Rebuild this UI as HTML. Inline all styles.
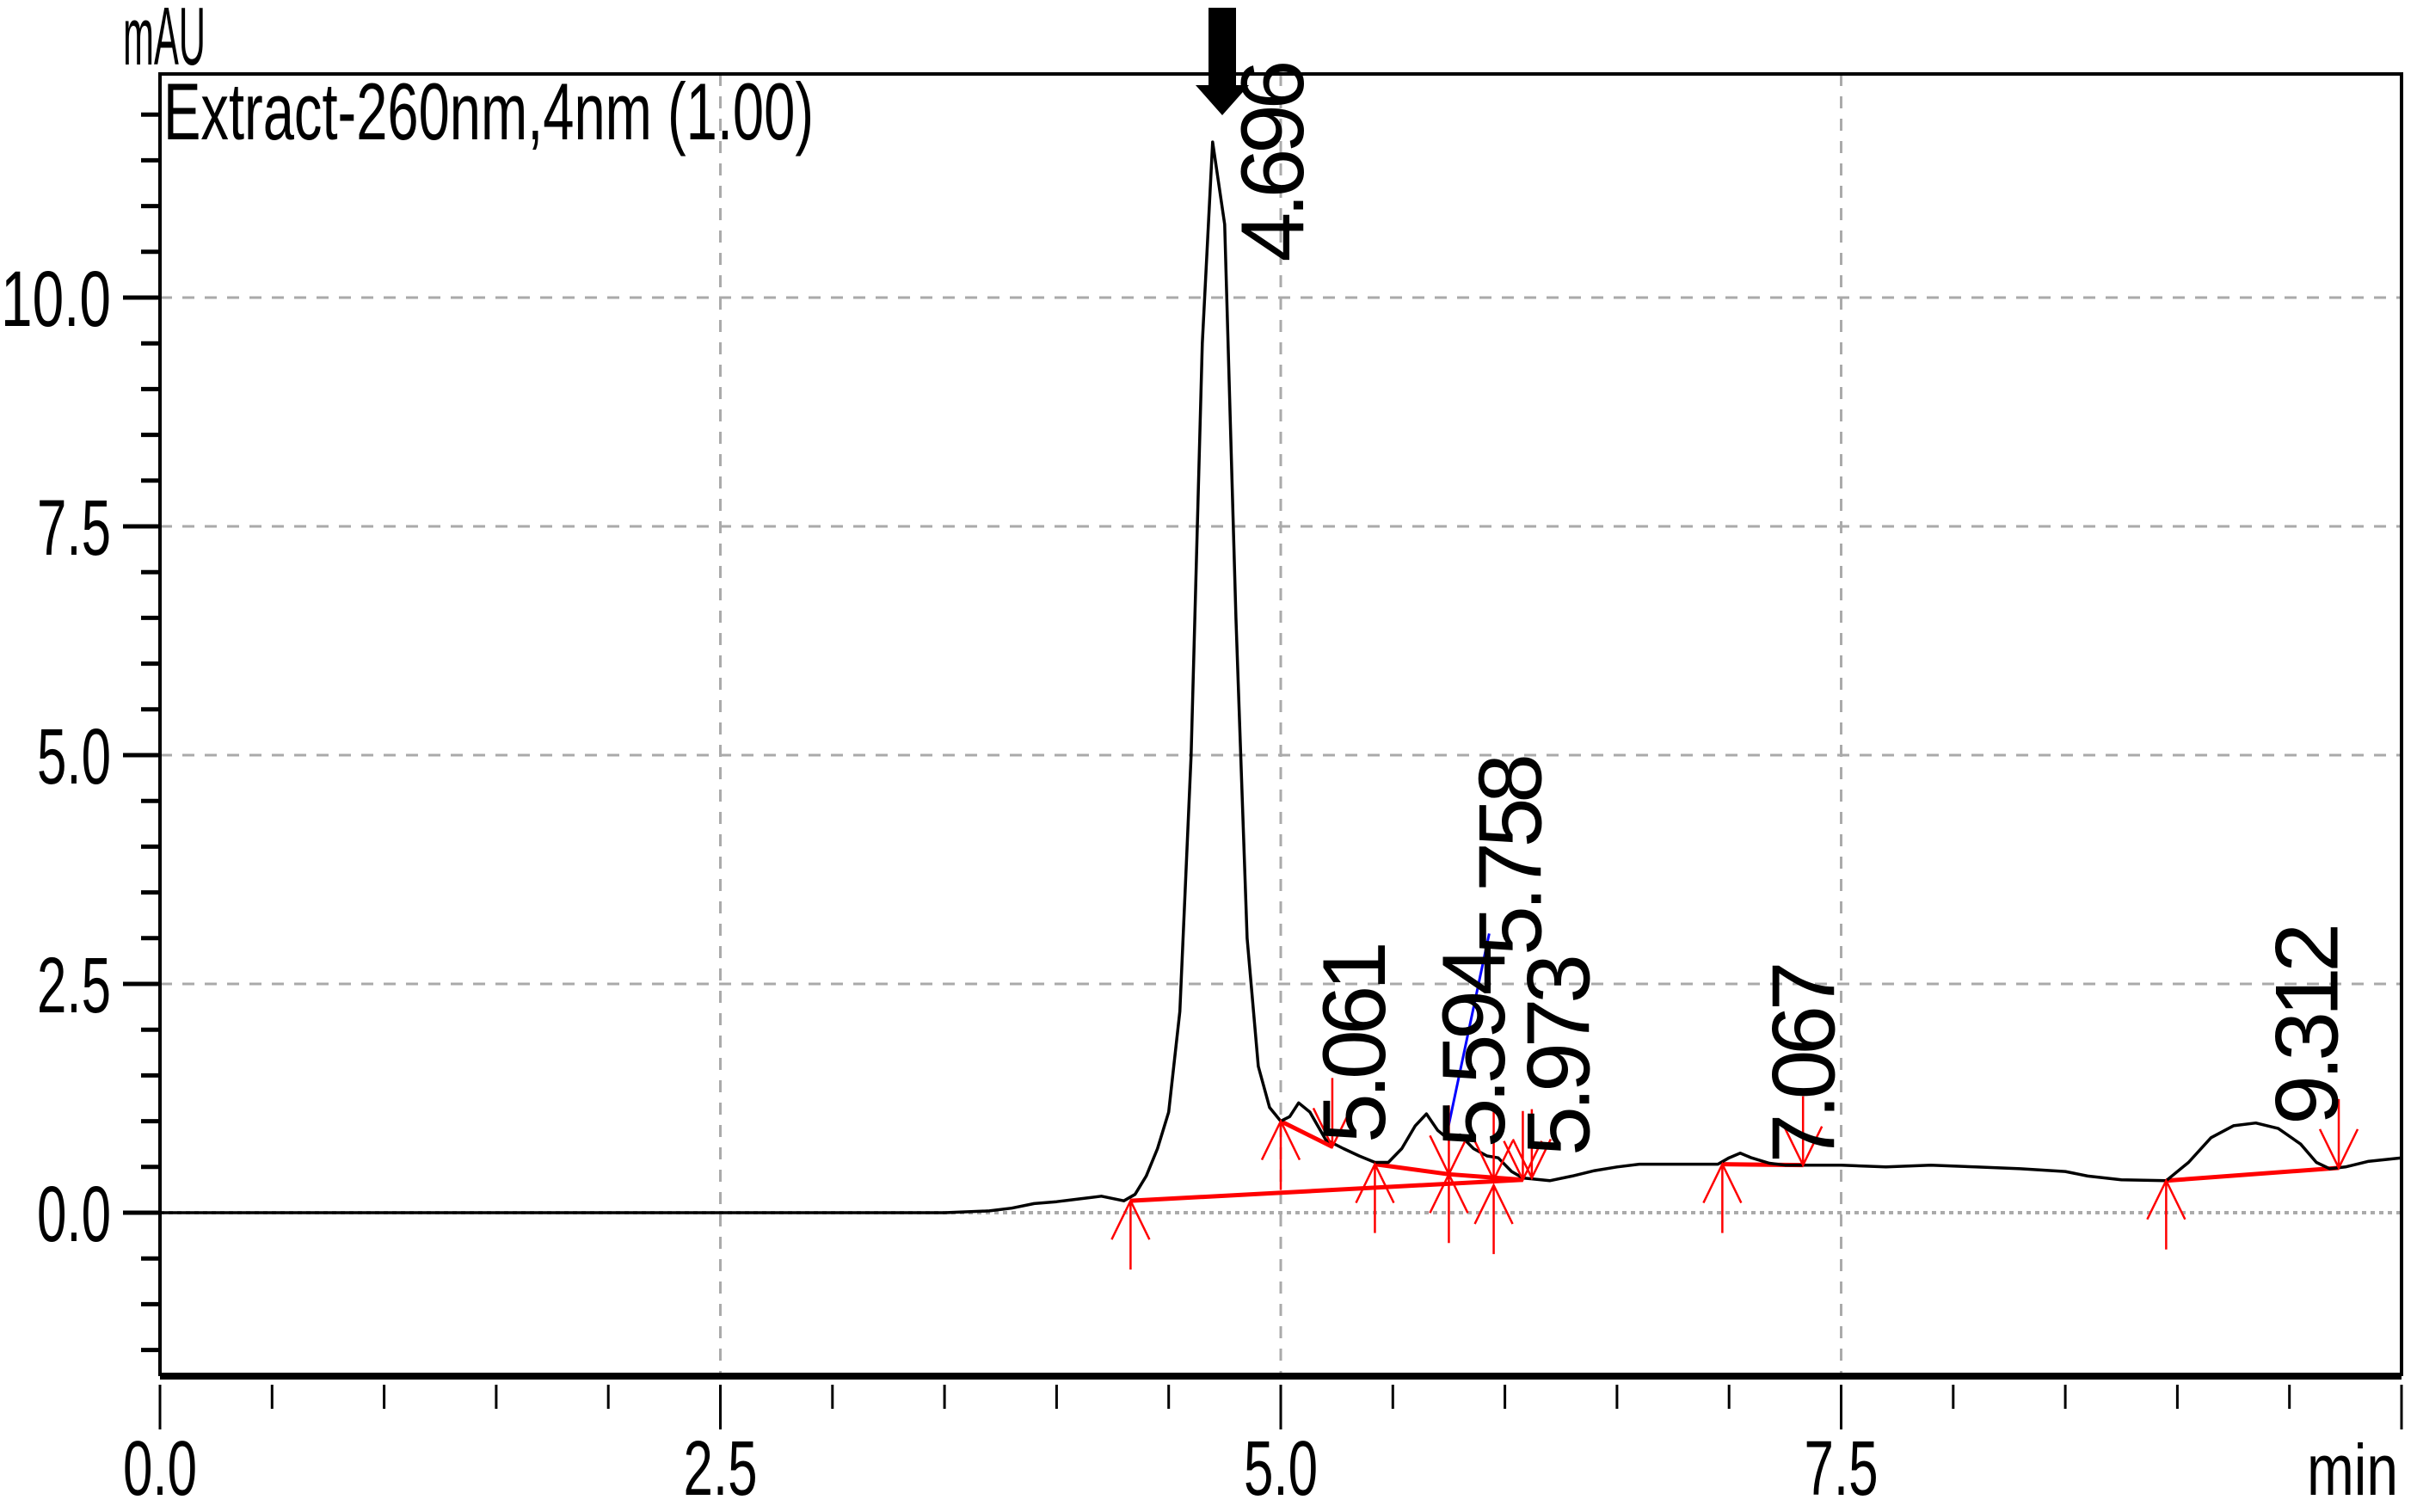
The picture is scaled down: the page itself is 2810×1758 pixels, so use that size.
<!DOCTYPE html>
<html><head><meta charset="utf-8"><style>
html,body{margin:0;padding:0;background:#fff}
svg{display:block}
text{font-family:"Liberation Sans",sans-serif;fill:#000}
</style></head><body>
<svg id="chart" width="2810" height="1758" viewBox="0 0 2810 1758" xmlns="http://www.w3.org/2000/svg">
<g id="grid"></g>
<g id="axes"></g>
<g id="series"></g>
<g id="labels"></g>
</svg>
<script>
const xTicksMajor=[0,2.5,5,7.5,10];
const xTickLabels=["0.0","2.5","5.0","7.5"];
const yTicksMajor=[0,2.5,5,7.5,10];
const yTickLabels=["0.0","2.5","5.0","7.5","10.0"];
const times=[0,0.5,1,1.5,2,2.5,3,3.5,3.7,3.8,3.9,4.0,4.1,4.2,4.3,4.35,4.4,4.45,4.5,4.55,4.6,4.65,4.696,4.75,4.8,4.85,4.9,4.95,5.0,5.04,5.08,5.13,5.2,5.28,5.35,5.42,5.48,5.54,5.6,5.65,5.7,5.75,5.8,5.86,5.92,5.97,6.03,6.08,6.2,6.3,6.4,6.5,6.6,6.8,6.95,7.0,7.05,7.1,7.18,7.25,7.35,7.5,7.7,7.9,8.1,8.3,8.5,8.6,8.75,8.95,9.05,9.15,9.25,9.35,9.45,9.55,9.62,9.68,9.75,9.85,10];
const values=[0,0,0,0,0,0,0,0,0.02,0.05,0.1,0.12,0.15,0.18,0.13,0.2,0.4,0.7,1.1,2.2,5.0,9.5,11.7,10.8,6.5,3.0,1.6,1.15,1.0,1.05,1.2,1.1,0.8,0.7,0.62,0.55,0.55,0.7,0.95,1.08,0.9,0.8,0.85,0.7,0.62,0.6,0.45,0.38,0.35,0.4,0.46,0.5,0.53,0.53,0.53,0.6,0.65,0.6,0.54,0.52,0.52,0.52,0.5,0.52,0.5,0.48,0.45,0.4,0.36,0.35,0.55,0.82,0.95,0.98,0.92,0.75,0.55,0.48,0.5,0.56,0.6];
const baseStartT=[4.33,5.0,5.42,5.75,6.97,8.95];
const baseStartV=[0.13,1.0,0.53,0.42,0.53,0.35];
const baseEndT=[6.08,5.23,5.75,6.08,7.33,9.72];
const baseEndV=[0.36,0.72,0.42,0.36,0.52,0.49];
const startMarkT=[4.33,5.0,5.42,5.75,5.95,6.97,8.95];
const startMarkV=[0.13,1.0,0.53,0.42,0.3,0.53,0.35];
const endMarkT=[5.23,5.75,5.95,6.08,6.12,7.33,9.72];
const endMarkV=[0.72,0.42,0.36,0.36,0.38,0.52,0.49];
const peakNames=["4.696","5.061","5.594","5.758","5.973","7.067","9.312"];
const peakLabelT=[4.696,5.061,5.594,5.758,5.973,7.067,9.312];
const peakLabelV=[10.39,0.76,0.71,2.81,0.62,0.54,0.96];

const L=186,R=2792,T=86,B=1600;
const X=t=>L+(t-0)/(10-0)*(R-L);
const Y=v=>1410-v/10*(1410-346);
const NS="http://www.w3.org/2000/svg";
function mk(tag,parent,attrs){const e=document.createElementNS(NS,tag);for(const k in attrs)e.setAttribute(k,attrs[k]);parent.appendChild(e);return e;}
const grid=document.getElementById('grid'),axes=document.getElementById('axes'),series=document.getElementById('series'),labels=document.getElementById('labels');

[2.5,5,7.5].forEach(t=>{const l=mk('line',grid,{x1:X(t),x2:X(t),y1:T,y2:B,stroke:'#aaa','stroke-width':3,'stroke-dasharray':'14 12'});

});
[2.5,5,7.5,10].forEach(v=>{const l=mk('line',grid,{x1:L,x2:R,y1:Y(v),y2:Y(v),stroke:'#aaa','stroke-width':3,'stroke-dasharray':'14 12'});

});
{const l=mk('line',grid,{x1:L,x2:R,y1:Y(0),y2:Y(0),stroke:'#aaa','stroke-width':4,'stroke-dasharray':'5 5'});

}

{const f=mk('path',axes,{d:`M${L},${B} L${L},${T} L${R},${T} L${R},${B}`,fill:'none',stroke:'#000','stroke-width':4});


const b=mk('line',axes,{x1:L,x2:R,y1:B,y2:B,stroke:'#000','stroke-width':8});

}

for(let v=-1.5;v<=12.01;v+=0.5){const major=Math.abs(v/2.5-Math.round(v/2.5))<1e-6;
const t=mk('line',axes,{x1:major?143:164,x2:L,y1:Y(v),y2:Y(v),stroke:'#000','stroke-width':5});

}
yTicksMajor.forEach((v,i)=>{const s=yTickLabels[i];const w=s.length>3?128:86;
const t=mk('text',axes,{x:129-w,y:Y(v)+33,'font-size':92,textLength:w,lengthAdjust:'spacingAndGlyphs'});t.textContent=s;

});
for(let t=0;t<=10.001;t+=0.5){const major=Math.abs(t/2.5-Math.round(t/2.5))<1e-6;
const l=mk('line',axes,{x1:X(t),x2:X(t),y1:1610,y2:major?1662:1638,stroke:'#000','stroke-width':3});

}
xTickLabels.forEach((s,i)=>{const t=mk('text',axes,{x:X(xTicksMajor[i])-43,y:1738,'font-size':90,textLength:86,lengthAdjust:'spacingAndGlyphs'});t.textContent=s;

});
{const t=mk('text',axes,{x:2682,y:1738,'font-size':84,textLength:106,lengthAdjust:'spacingAndGlyphs'});t.textContent='min';


const u=mk('text',axes,{x:143,y:75,'font-size':96,textLength:96,lengthAdjust:'spacingAndGlyphs'});u.textContent='mAU';


const c=mk('text',axes,{x:190,y:162,'font-size':94,textLength:756,lengthAdjust:'spacingAndGlyphs'});c.textContent='Extract-260nm,4nm (1.00)';

}

baseStartT.forEach((t,i)=>{const l=mk('line',series,{x1:X(t),y1:Y(baseStartV[i]),x2:X(baseEndT[i]),y2:Y(baseEndV[i]),stroke:'#f00','stroke-width':5});

});
{const d=times.map((t,i)=>(i?'L':'M')+X(t).toFixed(1)+','+Y(values[i]).toFixed(1)).join(' ');
const p=mk('path',series,{d:d,fill:'none',stroke:'#000','stroke-width':3.5,'stroke-linejoin':'round'});

}
{const l=mk('line',series,{x1:X(5.74),y1:Y(0.85),x2:X(5.93),y2:Y(3.05),stroke:'#00f','stroke-width':3});

}
startMarkT.forEach((t,i)=>{const x=X(t),y=Y(startMarkV[i]);
const g=mk('path',series,{d:`M${x},${y} L${x},${y+80} M${x-22},${y+45} L${x},${y} L${x+22},${y+45}`,fill:'none',stroke:'#f00','stroke-width':2.5});

});
endMarkT.forEach((t,i)=>{const x=X(t),y=Y(endMarkV[i]);
const g=mk('path',series,{d:`M${x},${y} L${x},${y-80} M${x-22},${y-45} L${x},${y} L${x+22},${y-45}`,fill:'none',stroke:'#f00','stroke-width':2.5});

});
peakNames.forEach((s,i)=>{const x=X(peakLabelT[i])+105,y=Y(peakLabelV[i]);
const t=mk('text',labels,{x:0,y:0,transform:`translate(${x},${y}) rotate(-90)`,'font-size':104,textLength:235,lengthAdjust:'spacing'});t.textContent=s;

});
{const a=mk('path',labels,{d:'M1405,9 L1437,9 L1437,99 L1452,99 L1421,134 L1390,99 L1405,99 Z',fill:'#000'});

}
</script>
</body></html>
